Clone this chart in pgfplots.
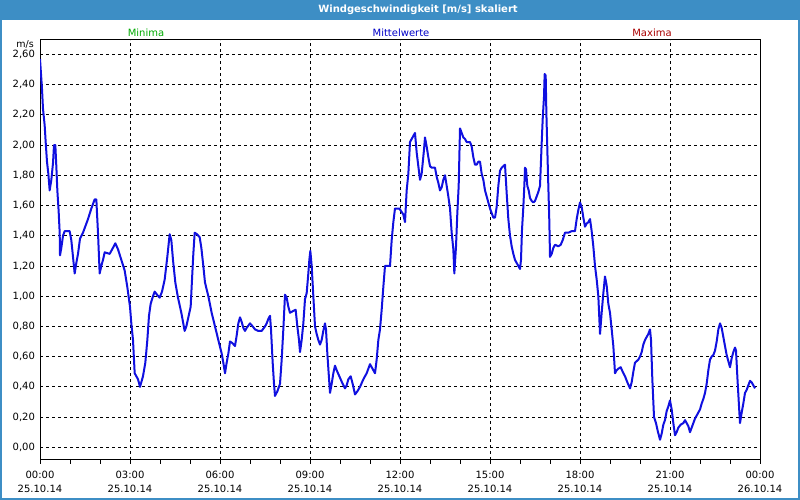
\documentclass[border=0pt]{standalone}
\usepackage{fontspec}
\setmainfont{DejaVu Sans}
\usepackage{pgfplots}
\usepackage{pgfplotstable}
\pgfplotsset{compat=1.18}
\definecolor{barblue}{RGB}{61,142,197}
\definecolor{lineblue}{RGB}{16,16,224}
\definecolor{mingreen}{RGB}{0,170,0}
\definecolor{midblue}{RGB}{0,0,200}
\definecolor{maxred}{RGB}{170,0,0}
\pgfplotstableread{
h v
0.000 2.57
0.067 2.37
0.100 2.24
0.156 2.13
0.189 2.02
0.233 1.89
0.278 1.81
0.322 1.70
0.378 1.77
0.433 1.88
0.467 2.00
0.511 2.00
0.544 1.86
0.578 1.70
0.622 1.56
0.656 1.42
0.667 1.27
0.711 1.32
0.767 1.40
0.822 1.43
0.989 1.43
1.044 1.37
1.100 1.26
1.156 1.15
1.211 1.22
1.267 1.28
1.333 1.38
1.433 1.42
1.600 1.51
1.711 1.58
1.822 1.64
1.878 1.64
1.900 1.55
1.933 1.42
1.989 1.15
2.044 1.20
2.100 1.24
2.156 1.29
2.322 1.28
2.433 1.32
2.511 1.35
2.600 1.31
2.711 1.24
2.822 1.17
2.911 1.06
3.000 0.93
3.044 0.82
3.100 0.71
3.156 0.49
3.267 0.45
3.333 0.40
3.433 0.47
3.511 0.56
3.578 0.71
3.633 0.87
3.689 0.95
3.767 1.00
3.822 1.03
3.900 1.01
3.989 0.99
4.067 1.03
4.156 1.11
4.244 1.26
4.322 1.41
4.378 1.37
4.433 1.24
4.511 1.09
4.600 0.99
4.711 0.89
4.822 0.77
4.878 0.80
4.956 0.87
5.022 0.93
5.067 1.11
5.111 1.28
5.156 1.42
5.233 1.41
5.322 1.39
5.378 1.32
5.444 1.20
5.500 1.09
5.611 1.00
5.722 0.89
5.833 0.80
5.944 0.71
6.056 0.62
6.111 0.56
6.167 0.49
6.222 0.56
6.278 0.62
6.333 0.70
6.411 0.69
6.500 0.67
6.556 0.74
6.611 0.82
6.667 0.86
6.722 0.83
6.778 0.79
6.833 0.77
6.889 0.79
7.000 0.82
7.089 0.80
7.167 0.78
7.278 0.77
7.389 0.77
7.500 0.80
7.556 0.82
7.611 0.85
7.667 0.87
7.700 0.78
7.756 0.56
7.800 0.42
7.833 0.34
7.911 0.37
8.000 0.42
8.056 0.58
8.111 0.78
8.167 1.01
8.222 0.99
8.278 0.93
8.333 0.89
8.422 0.90
8.522 0.91
8.578 0.80
8.633 0.71
8.667 0.63
8.722 0.71
8.778 0.82
8.833 0.98
8.889 1.02
8.944 1.15
8.978 1.24
9.011 1.30
9.056 1.20
9.111 1.00
9.167 0.80
9.222 0.75
9.278 0.71
9.333 0.68
9.389 0.71
9.444 0.77
9.500 0.82
9.533 0.78
9.578 0.62
9.622 0.49
9.667 0.36
9.722 0.42
9.778 0.49
9.833 0.54
9.889 0.51
10.000 0.46
10.089 0.42
10.167 0.39
10.222 0.41
10.278 0.45
10.356 0.47
10.422 0.42
10.500 0.35
10.578 0.37
10.667 0.40
10.778 0.45
10.889 0.49
11.000 0.55
11.056 0.53
11.111 0.51
11.167 0.49
11.222 0.58
11.278 0.71
11.333 0.78
11.389 0.91
11.444 1.06
11.500 1.20
11.667 1.20
11.722 1.37
11.778 1.49
11.833 1.58
11.978 1.58
12.111 1.54
12.167 1.49
12.222 1.70
12.278 1.81
12.333 2.02
12.389 2.04
12.444 2.06
12.500 2.08
12.556 1.95
12.611 1.86
12.667 1.77
12.722 1.81
12.756 1.88
12.800 1.97
12.833 2.05
12.889 1.99
12.944 1.92
13.000 1.86
13.056 1.85
13.167 1.85
13.222 1.79
13.278 1.75
13.333 1.70
13.389 1.72
13.444 1.77
13.500 1.80
13.556 1.73
13.611 1.66
13.667 1.58
13.722 1.42
13.778 1.31
13.811 1.15
13.867 1.33
13.911 1.55
13.956 1.73
13.978 1.92
14.000 2.11
14.056 2.08
14.111 2.05
14.167 2.04
14.222 2.02
14.333 2.02
14.389 1.99
14.444 1.92
14.500 1.87
14.556 1.87
14.611 1.89
14.667 1.89
14.722 1.81
14.778 1.77
14.833 1.70
14.889 1.66
14.944 1.62
15.000 1.58
15.056 1.55
15.111 1.52
15.167 1.52
15.222 1.59
15.278 1.73
15.333 1.83
15.389 1.85
15.444 1.86
15.500 1.87
15.556 1.68
15.611 1.51
15.667 1.40
15.722 1.33
15.778 1.28
15.833 1.24
15.889 1.22
15.944 1.20
16.000 1.18
16.033 1.24
16.067 1.44
16.111 1.59
16.144 1.73
16.167 1.85
16.200 1.84
16.244 1.73
16.289 1.70
16.333 1.65
16.389 1.63
16.444 1.62
16.500 1.63
16.556 1.66
16.611 1.69
16.667 1.73
16.722 2.01
16.756 2.17
16.800 2.32
16.822 2.47
16.856 2.46
16.878 2.22
16.911 1.97
16.944 1.73
16.978 1.49
17.000 1.26
17.056 1.28
17.111 1.32
17.167 1.34
17.278 1.33
17.356 1.34
17.422 1.37
17.500 1.42
17.611 1.42
17.722 1.43
17.833 1.43
17.889 1.51
17.944 1.57
18.000 1.62
18.056 1.59
18.111 1.52
18.167 1.46
18.222 1.48
18.278 1.49
18.333 1.51
18.389 1.43
18.444 1.33
18.500 1.20
18.556 1.11
18.611 1.00
18.667 0.75
18.722 0.89
18.778 1.02
18.833 1.13
18.889 1.07
18.944 0.95
19.000 0.89
19.056 0.78
19.111 0.67
19.167 0.49
19.222 0.51
19.278 0.52
19.356 0.53
19.422 0.50
19.500 0.47
19.578 0.43
19.667 0.39
19.722 0.43
19.778 0.50
19.833 0.56
19.889 0.57
19.944 0.58
20.000 0.60
20.056 0.63
20.111 0.68
20.167 0.71
20.222 0.73
20.278 0.75
20.333 0.78
20.367 0.71
20.411 0.45
20.467 0.20
20.533 0.16
20.589 0.11
20.667 0.05
20.722 0.09
20.778 0.15
20.833 0.18
20.889 0.24
20.944 0.27
21.000 0.31
21.056 0.25
21.111 0.16
21.167 0.08
21.222 0.10
21.278 0.13
21.356 0.15
21.444 0.16
21.500 0.18
21.556 0.16
21.611 0.14
21.667 0.10
21.722 0.13
21.778 0.16
21.833 0.19
21.889 0.21
21.944 0.23
22.000 0.25
22.056 0.29
22.111 0.32
22.167 0.36
22.222 0.42
22.278 0.51
22.333 0.58
22.389 0.60
22.444 0.61
22.500 0.64
22.556 0.70
22.611 0.78
22.667 0.82
22.722 0.79
22.778 0.73
22.833 0.67
22.889 0.61
22.944 0.57
23.000 0.53
23.056 0.59
23.111 0.63
23.167 0.66
23.200 0.64
23.244 0.47
23.289 0.31
23.333 0.16
23.389 0.23
23.444 0.29
23.500 0.36
23.556 0.38
23.611 0.41
23.667 0.44
23.722 0.43
23.778 0.41
23.833 0.39
}\wind
\begin{document}
\begin{tikzpicture}[x=1pt,y=1pt]
\useasboundingbox (0,0) rectangle (800,500);
\fill[white] (0,0) rectangle (800,500);
\fill[barblue] (0,480) rectangle (800,500);
\draw[barblue, line width=2pt] (1,1) rectangle (799,499);
\node[white, font=\bfseries\fontsize{10}{12}\selectfont] at (418,490) {Windgeschwindigkeit [m/s] skaliert};
\node[mingreen, font=\fontsize{10}{12}\selectfont] at (146,467.5) {Minima};
\node[midblue, font=\fontsize{10}{12}\selectfont] at (401,467.5) {Mittelwerte};
\node[maxred, font=\fontsize{10}{12}\selectfont] at (652,467.5) {Maxima};
\node[anchor=base east, font=\fontsize{9.5}{11}\selectfont, inner sep=0pt] at (34,452.5) {m/s};
\begin{axis}[
  at={(40pt,40pt)}, anchor=south west,
  scale only axis, width=720pt, height=420pt,
  xmin=0, xmax=24, ymin=-0.084, ymax=2.695,
  axis line style={black, line width=1pt},
  xtick={0,3,...,24},
  xticklabels={{00:00\\25.10.14},{03:00\\25.10.14},{06:00\\25.10.14},{09:00\\25.10.14},{12:00\\25.10.14},{15:00\\25.10.14},{18:00\\25.10.14},{21:00\\25.10.14},{00:00\\26.10.14}},
  xticklabel style={align=center, font=\fontsize{10}{14}\selectfont, yshift=-4pt},
  minor x tick num=2,
  tick align=outside,
  major tick length=4pt, minor tick length=4pt,
  x tick style={black, line width=1pt},
  xtick pos=bottom,
  ytick={0,0.2,0.4,0.6,0.8,1,1.2,1.4,1.6,1.8,2,2.2,2.4,2.6},
  y tick style={draw=none},
  yticklabel style={/pgf/number format/fixed, /pgf/number format/fixed zerofill, /pgf/number format/precision=2, /pgf/number format/use comma, /pgf/number format/assume math mode=true, font=\fontsize{10}{12}\selectfont, xshift=2.5pt, inner ysep=1pt},
  xmajorgrids, ymajorgrids,
  major grid style={black, line width=0.8pt, dash pattern=on 3pt off 3pt},
  clip=true,
]
\addplot[lineblue, line width=2pt, line join=round, no marks] table[x=h, y=v] {\wind};
\end{axis}
\end{tikzpicture}
\end{document}
